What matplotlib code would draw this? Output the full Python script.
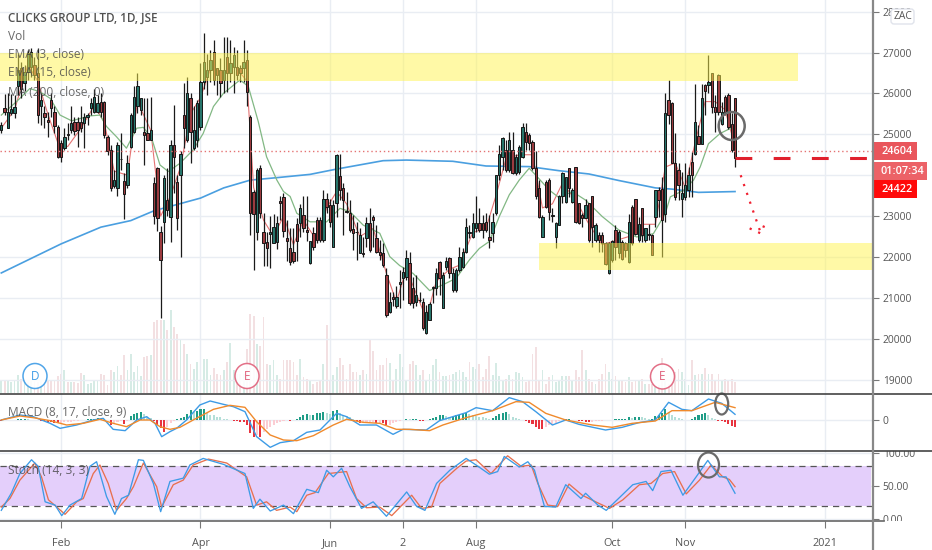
import numpy as np
import matplotlib
matplotlib.use('Agg')
import matplotlib.pyplot as plt
from matplotlib.patches import Ellipse, Rectangle, FancyBboxPatch

plt.rcParams['font.family'] = ['Open Sans', 'DejaVu Sans']

WIDTH, HEIGHT = 932, 550
PANE_RIGHT = 873

opens = [
    25100, 25640, 25150, 25520, 25520, 26170, 26610, 26250, 26530, 26650,
    26700, 26490, 25680, 25510, 25350, 25840, 25550, 25190, 24780, 24660,
    25000, 25100, 25310, 25290, 25310, 25270, 25420, 25640, 25550, 25550,
    25800, 25800, 24940, 24620, 23740, 23680, 24400, 23850, 23760, 24700,
    25060, 25680, 25590, 25060, 25020, 24860, 23820, 24170, 22620, 22850,
    23400, 22980, 24740, 23840, 24000, 25470, 24860, 25880, 24660, 24860,
    25190, 26290, 26410, 26570, 27020, 26610, 26570, 26330, 26900, 26490,
    26650, 26650, 26610, 26610, 26820, 25430, 23590, 22620, 24170, 22620,
    22370, 22560, 22340, 22370, 23380, 23460, 22460, 22220, 22130, 22800,
    22840, 23030, 22650, 21850, 22580, 22900, 22900, 22420, 23430, 23270,
    22250, 23310, 23980, 23680, 23120, 23070, 22680, 22620, 22090, 22090,
    22460, 22820, 22990, 22460, 22110, 22090, 21560, 20660, 21030, 20790,
    21340, 21480, 21520, 21850, 21230, 20910, 20950, 20910, 20130, 20460,
    21230, 21230, 21870, 20750, 21760, 21970, 21190, 21190, 21680, 21760,
    22130, 22620, 22500, 22700, 22820, 22820, 22860, 22500, 22580, 23070,
    24000, 24450, 24610, 24130, 24610, 24050, 24090, 24450, 25060, 24980,
    24820, 24170, 23680, 22500, 23840, 23880, 23000, 22500, 22780, 23480,
    23350, 24170, 23350, 24210, 23310, 23030, 22950, 23310, 23480, 22420,
    22540, 22540, 22330, 21600, 21930, 22660, 22090, 22370, 22330, 21880,
    23230, 23430, 22410, 23190, 22410, 22570, 22530, 22980, 23650, 23670,
    23060, 25850, 25770, 24290, 24120, 23430, 23470, 23630, 24330, 24530,
    24950, 24770, 26200, 26200, 26490, 25670, 26450, 25260, 25920, 25970,
    25260, 25880,
]
highs = [
    25310, 25980, 26000, 25990, 25960, 26960, 26780, 26700, 27050, 27100,
    26900, 27100, 26000, 25680, 25550, 26000, 25680, 25230, 24860, 25150,
    25270, 25680, 25430, 25430, 25680, 25510, 25510, 25880, 26120, 25960,
    26000, 25820, 24980, 24740, 24130, 24820, 25020, 24050, 24500, 25510,
    26170, 26490, 25880, 25880, 25880, 25920, 23950, 24200, 22750, 24000,
    24170, 24850, 25720, 24000, 24600, 26250, 26410, 26000, 25680, 25840,
    26740, 27470, 26970, 27060, 27310, 26610, 26860, 27390, 27390, 27310,
    27140, 27060, 26690, 27310, 27060, 25470, 23650, 24170, 24250, 23070,
    22620, 23000, 23050, 23000, 23500, 23560, 22900, 22700, 22700, 22950,
    23300, 23500, 23480, 22390, 22740, 22990, 22990, 23640, 23560, 23430,
    23390, 24530, 24530, 23800, 23600, 23390, 23030, 22860, 22700, 22500,
    22990, 23190, 23030, 22780, 22410, 22330, 21720, 21150, 21150, 21280,
    21680, 21760, 22170, 22130, 21520, 21560, 21150, 20990, 20830, 20900,
    21280, 21720, 21890, 21640, 22010, 22010, 21720, 21720, 22250, 22210,
    22950, 22780, 23070, 23480, 23190, 23030, 23070, 23030, 23070, 24000,
    24740, 24940, 24860, 25060, 25060, 24530, 24740, 25270, 25280, 25020,
    24860, 24580, 23880, 23030, 23880, 23920, 23190, 22860, 23520, 24090,
    23960, 24170, 23680, 24210, 23310, 23070, 23430, 23310, 23490, 22820,
    22620, 22620, 22370, 22370, 22420, 22780, 22660, 22410, 22370, 23060,
    23270, 23430, 22980, 23190, 22700, 22800, 22570, 23010, 23700, 23960,
    26000, 26320, 25800, 25020, 24290, 24080, 24290, 24200, 24570, 26240,
    25220, 26240, 26240, 26930, 26510, 25960, 26480, 25800, 25960, 26000,
    25510, 25890,
]
lows = [
    25020, 25480, 25150, 25470, 25390, 25950, 25880, 26050, 26330, 26400,
    26330, 25270, 25230, 25150, 24940, 25430, 25020, 24410, 24330, 24620,
    24860, 25020, 24980, 24700, 25060, 24660, 25220, 25470, 25510, 25510,
    25430, 24900, 24490, 23620, 23680, 23480, 24130, 22930, 23680, 24660,
    25020, 25510, 25470, 24250, 24860, 24860, 22800, 22630, 20500, 22340,
    23000, 22370, 23560, 22650, 22000, 24660, 24820, 24290, 24620, 24700,
    25100, 26100, 25960, 26290, 26200, 25960, 25920, 26000, 26040, 26290,
    26000, 26330, 26290, 26290, 25680, 22540, 21680, 22420, 22950, 21770,
    21780, 21730, 22330, 22200, 22900, 22500, 21900, 21800, 21850, 21900,
    22500, 22600, 22400, 21840, 22170, 22330, 22370, 22370, 23070, 22740,
    22240, 22990, 23390, 22540, 23070, 22620, 22170, 21930, 22090, 22010,
    22250, 22130, 22250, 22090, 21930, 21760, 20540, 20620, 20790, 20750,
    20750, 20950, 21440, 20830, 20750, 20790, 20910, 20210, 20120, 20460,
    20870, 21070, 21070, 20750, 21680, 21480, 21150, 21150, 21640, 21720,
    22090, 22460, 22460, 22620, 22620, 22460, 22620, 22210, 22370, 23030,
    23880, 24130, 24090, 24090, 24040, 24000, 24040, 24410, 24620, 24620,
    24130, 23430, 22950, 22480, 23190, 22900, 22860, 22210, 22780, 23310,
    23310, 23470, 23310, 22820, 22800, 22740, 22950, 22370, 22250, 22370,
    22130, 22130, 21800, 21590, 21880, 21930, 21970, 21920, 22000, 21860,
    22290, 22530, 22370, 22370, 22370, 22410, 22040, 22740, 22980, 22000,
    22860, 25260, 24290, 23390, 23390, 22980, 23390, 23470, 23470, 24490,
    24770, 24770, 25470, 26000, 25510, 25060, 25470, 25220, 25470, 25140,
    24570, 24200,
]
closes = [
    25230, 25550, 25550, 25620, 25660, 26570, 26120, 26530, 26980, 27020,
    26450, 25470, 25840, 25430, 25290, 25640, 25200, 24440, 24450, 24940,
    24980, 25270, 25070, 25110, 25150, 25430, 25470, 25760, 25920, 25760,
    25550, 24980, 24580, 23680, 23880, 24740, 24390, 23540, 24290, 25470,
    25920, 26170, 25880, 24980, 24860, 25100, 23000, 22950, 21930, 23930,
    23150, 24740, 24450, 22950, 24530, 25150, 26000, 25060, 25100, 25760,
    26290, 26780, 26570, 26820, 26330, 26450, 26250, 26570, 26490, 26740,
    26940, 26450, 26490, 26780, 26040, 23070, 23060, 24130, 23070, 22340,
    22220, 22620, 22740, 22840, 23330, 22640, 22380, 21880, 21890, 22400,
    23200, 22700, 22620, 22390, 22250, 22420, 22420, 23430, 23230, 22860,
    23270, 24490, 23640, 23390, 23090, 22660, 22580, 22600, 22540, 22070,
    22820, 22170, 22900, 22130, 22050, 21800, 20580, 20910, 20980, 21030,
    21400, 21640, 21970, 20870, 20870, 21070, 20960, 20260, 20660, 20850,
    21260, 21600, 21480, 21560, 21890, 21600, 21600, 21680, 22010, 22130,
    22740, 22580, 22820, 22820, 22660, 22660, 22660, 22420, 22860, 24000,
    24530, 24900, 24130, 24860, 24050, 24450, 24700, 25190, 24820, 24780,
    24170, 23480, 22990, 22990, 23230, 23110, 23030, 22820, 23480, 24050,
    23960, 23680, 23640, 22860, 22820, 22950, 23270, 22420, 22740, 22780,
    22420, 22330, 21840, 22330, 22380, 22250, 22620, 21960, 22170, 22860,
    22330, 22570, 22800, 22530, 22700, 22530, 22040, 23650, 23390, 22900,
    25510, 25470, 24300, 23470, 23760, 23570, 23760, 24000, 24000, 25300,
    24770, 25880, 26060, 26280, 25670, 25550, 25550, 25550, 25550, 25180,
    24610, 24422,
]
volumes = [
    13, 13, 12, 11, 13, 18, 14, 11, 12, 12,
    12, 11, 12, 11, 13, 12, 13, 17, 19, 23,
    11, 11, 11, 10, 20, 18, 9, 10, 12, 13,
    19, 18, 8, 23, 21, 27, 18, 38, 23, 39,
    21, 27, 17, 36, 37, 38, 71, 73, 73, 73,
    63, 83, 66, 59, 53, 49, 39, 29, 24, 31,
    33, 34, 34, 18, 25, 19, 18, 23, 31, 50,
    23, 19, 19, 19, 44, 79, 77, 49, 47, 76,
    29, 28, 33, 18, 14, 33, 33, 33, 31, 18,
    34, 16, 14, 13, 9, 11, 13, 29, 68, 13,
    18, 26, 35, 28, 14, 29, 21, 21, 18, 23,
    19, 53, 42, 23, 28, 28, 35, 30, 13, 24,
    39, 26, 13, 29, 32, 28, 18, 23, 13, 19,
    28, 34, 21, 17, 17, 18, 19, 21, 23, 21,
    16, 31, 26, 24, 29, 16, 24, 37, 18, 30,
    17, 13, 14, 18, 14, 21, 20, 16, 11, 12,
    39, 46, 13, 23, 9, 16, 18, 11, 13, 17,
    17, 17, 13, 23, 16, 43, 23, 14, 11, 9,
    14, 19, 29, 21, 14, 17, 13, 13, 11, 16,
    11, 13, 13, 14, 9, 9, 9, 6, 8, 35,
    13, 9, 13, 21, 24, 21, 14, 8, 33, 18,
    19, 19, 25, 19, 19, 13, 19, 13, 14, 13,
    14, 11,
]
macd_hist = [
    -2, -1, 0, 0, 1, 2, 3, 3, 2, 1,
    0, -1, -2, -3, -5, -6, -8, -9, -8, -7,
    -6, -5, -4, -3, -1, 0, 3, 4, 4, 5,
    4, 3, 1, -15, -12, -6, -4, -13, -2, 12,
    17, 22, 24, 18, 10, 5, -2, -15, -25, -35,
    -20, -8, -4, 2, 5, 8, 18, 30, 24, 26,
    32, 34, 20, 16, 14, 10, 8, 4, 2, 1,
    -2, -3, -5, -7, -15, -40, -50, -45, -50, -35,
    -28, -22, -16, -10, -6, -3, -1, -4, -1, 4,
    10, 15, 18, 14, 16, 20, 22, 25, 22, 18,
    28, 30, 20, 16, 12, 8, 4, -3, -8, -8,
    -6, -6, -5, -8, -8, -9, -16, -14, -10, -6,
    -3, 0, 4, 2, 2, 2, -2, -3, -1, 2,
    6, 10, 14, 16, 12, 10, 10, 14, 15, 18,
    20, 18, 15, 12, 10, 8, 5, 4, 5, 12,
    18, 22, 24, 18, 10, 5, 2, 1, -3, -8,
    -12, -20, -26, -28, -20, -16, -12, -8, -4, -1,
    2, 4, 1, -1, -2, -3, -5, -6, -5, -4,
    -3, -2, -1, 0, 0, 2, 2, 2, 4, 8,
    6, 9, 9, 8, 5, 4, 4, 12, 14, 20,
    34, 24, 16, 10, 5, 2, -1, 1, 4, 10,
    14, 17, 20, 14, 6, 3, -2, -4, -7, -12,
    -18, -20,
]

ema3_x = [0, 4, 8, 11, 14, 17, 20, 24, 28, 31, 34, 38, 41, 45, 48, 51, 54, 57, 60, 63, 67, 70, 74, 76, 79, 82, 85, 88, 91, 95,
          98, 101, 104, 108, 112, 116, 119, 122, 125, 128, 131, 135, 138, 142, 146, 149, 152, 156, 160, 163, 166, 169, 173,
          177, 181, 185, 189, 193, 197, 200, 203, 206, 209, 212, 215, 218, 221]
ema3_y = [25150, 25600, 26700, 26300, 25500, 24800, 24700, 25150, 25700, 25300, 24100, 24000, 25800, 25100, 23000, 23500,
          24200, 25500, 25900, 26600, 26500, 26700, 26300, 23700, 22900, 22500, 23000, 22300, 22900, 22400,
          23200, 23600, 23300, 22500, 22700, 21600, 20900, 21700, 21100, 20500, 21400, 21700, 21800, 22600, 22700, 23500,
          24400, 24500, 24500, 23200, 23300, 23800, 23400, 22800, 22300, 22400, 22500, 22800, 22800, 24200, 24300, 23700,
          24800, 25800, 25800, 25600, 24700]

ema15_x = [0, 4.6, 8.6, 11.6, 14.7, 17.7, 21.2, 26.7, 29.7, 31.7, 34.7, 37.7, 40.8, 42.8, 45.3, 47.8, 50.3, 53.8, 57.8,
           60.8, 63.9, 66.9, 71.9, 74.4, 77.4, 79.9, 83, 85, 87, 89, 93, 98, 102, 105, 109, 114, 117, 120, 124, 129, 133,
           137, 141, 144, 147, 150, 153, 156, 159, 161, 165, 168, 172, 176, 181, 186, 191.4, 196.4, 200, 201.5, 205.5,
           208.5, 210.5, 213, 216.5, 219.5, 221]
ema15_y = [25470, 25800, 26120, 26040, 25880, 25470, 25330, 25450, 25470, 25190, 24940, 24660, 25150, 25170, 24900, 24250,
           24090, 24290, 24620, 25020, 25680, 26000, 26330, 26170, 25310, 24450, 23880, 23600, 23480, 23070, 22860, 22860,
           23190, 23110, 22780, 22580, 22010, 21790, 21600, 21180, 21320, 21480, 21930, 22210, 22380, 22990, 23520, 23880,
           24170, 24000, 23640, 23450, 23600, 23390, 22990, 22660, 22490, 22570, 23060, 23470, 23630, 23880, 24200, 24770,
           25020, 25140, 25130]

ma200_x = [0, 18, 30, 39, 46, 60, 67, 75, 83, 93, 101, 115, 122, 136, 146, 159, 168, 177, 186, 197, 202, 210, 221]
ma200_y = [21610, 22320, 22730, 22890, 23130, 23440, 23690, 23880, 23940, 24020, 24150, 24355, 24370, 24340, 24225, 24210,
           24110, 24030, 23870, 23690, 23660, 23580, 23600]

macd_x = [0, 5.6, 9.6, 14.7, 17.7, 22.7, 27.7, 30.7, 33.7, 37.3, 40.8, 43.8, 46.3, 48.3, 50.8, 52.8, 55.8, 59.8, 62.9, 66.9,
          69.9, 73.4, 76.9, 81, 84, 88, 92, 96, 101, 104, 108, 113, 118, 121, 128, 132, 140, 143, 148, 153, 157, 161, 166,
          170, 174, 182, 187, 192, 197, 201, 205, 208, 213, 217, 221]
macd_line = [0, 15, 10, -10, -25, -15, 0, 5, -28, -32, 0, 10, -10, -50, -35, -25, 0, 45, 57, 47,
             40, 25, -50, -82, -68, -62, -37, -30, 20, 10, -15, -15, -43, -28, -30, -2, 22, 37, 28, 67, 55, 25, -15,
             0, -13, -30, -22, -8, 0, 53, 32, 28, 63, 50, 17]
signal_x = [0, 5.6, 9.6, 14.7, 19.7, 24.7, 29.7, 33.7, 37.7, 41.8, 44.8, 47.8, 50.8, 53.8, 57.8, 63.9, 68.9, 73.4, 76.9, 81,
            85, 89, 94, 100, 104, 109, 114, 119, 123, 129, 133, 140, 148, 155, 159, 164, 170, 178, 184, 190, 197, 202, 208,
            215, 221]
signal_line = [0, 12, 7, -2, -15, -10, 2, -10, -20, 0, 0, -20, -28, -22, 0, 32, 44, 38, -5, -45,
               -60, -62, -47, -15, 2, -7, -10, -28, -28, -32, -15, 7, 28, 55, 53, 20, 0, -15, -22, -10, -3, 28, 28,
               53, 37]

stoch_k_x = [0, 3, 5.6, 9.1, 11.1, 13.2, 16.2, 18.2, 20.7, 24.2, 26.7, 28.7, 31.7, 34.2, 36.2, 38.3, 41.3, 42.8, 45.8, 48,
             50.8, 54.8, 56.8, 60.8, 66.9, 73.4, 75.9, 77.9, 81, 85, 88, 92, 95.5, 98, 100, 102.5, 105, 108.5, 112, 116,
             122.1, 125.1, 127.6, 131.1, 135.1, 140, 143, 147, 149.5, 151.5, 156, 158.6, 160.6, 163.6, 167, 170, 174.6,
             176, 179.7, 182.2, 185.7, 190.2, 194.2, 196.2, 198.7, 201.7, 205.3, 209.3, 212.8, 216.3, 218.3, 221]
stoch_k = [13, 39, 69, 90, 80, 26, 21, 5, 21, 31, 80, 87, 34, 7, 31, 36, 90, 89, 54, 11,
           57, 62, 82, 92, 83, 69, 16, 30, 12, 21, 8, 45, 40, 74, 64, 77, 49, 16, 26, 4,
           41, 19, 13, 54, 74, 92, 82, 68, 72, 95, 79, 87, 74, 19, 18, 52, 31,
           39, 21, 13, 30, 52, 57, 43, 72, 74, 36, 64, 89, 64, 64, 39]
stoch_d_x = [0, 2.6, 5.6, 10.1, 12.1, 14.2, 16.7, 19.2, 22.7, 24.7, 27.7, 29.7, 32.2, 34.7, 37.7, 39.8, 42.8, 46.8, 48.3,
             51.8, 54.8, 57.8, 62.4, 67.9, 73.9, 76.9, 79.9, 82.9, 87, 89, 92, 94.5, 98.5, 104, 107, 110, 114, 117.6, 123.6,
             126.6, 129.6, 132.1, 137.2, 140, 143, 147.5, 152.5, 156.6, 159.6, 161.6, 164.6, 167.6, 171, 175, 179, 183.2,
             187.2, 192.2, 195.7, 199.2, 202.8, 206.3, 210.3, 213.8, 217.3, 219.3, 221]
stoch_d = [18, 31, 59, 85, 64, 29, 18, 7, 26, 31, 69, 82, 54, 13, 31, 49, 85, 49, 18,
           52, 59, 82, 91, 85, 64, 21, 26, 13, 18, 11, 36, 40, 69, 72, 31, 17, 18, 5, 36,
           16, 18, 54, 77, 88, 90, 69, 96, 80, 82, 54, 21, 19, 53, 36, 26, 16,
           29, 52, 54, 69, 72, 38, 59, 82, 64, 60, 49]

x_tick_pos = [18, 60, 99, 121, 143, 184, 206, 248]
x_tick_labels = ['Feb', 'Apr', 'Jun', '2', 'Aug', 'Oct', 'Nov', '2021']
price_ticks = [19000, 20000, 21000, 22000, 23000, 24000, 25000, 26000, 27000, 28000]
# the 24000 label is hidden behind the price tags in the reference
price_tick_labels = ['19000', '20000', '21000', '22000', '23000', '', '25000', '26000', '27000', '28000']
stoch_ticks = [0, 50, 100]
stoch_tick_labels = ['0.00', '50.00', '100.00']

zone_top = (26300, 27000, 797)
zone_bottom = (21680, 22340, 162)
last_close = 24422
prev_level = 24604
arrow_x = [222.7, 228.8]
arrow_y = [24000, 22575]
head_x = [225.4, 228.8, 230.4]
head_y = [22700, 22575, 22900]

GREEN_BODY = '#27756b'
RED_BODY = '#9c3b3f'
GRID = '#e9edf3'
TEXT = '#555555'

x = np.arange(len(closes))
x_min = -1.3 / 3.32
x_max = (PANE_RIGHT - 1.3) / 3.32

fig = plt.figure(figsize=(WIDTH / 100, HEIGHT / 100), dpi=100)


def pane(top, bottom):
    return fig.add_axes([0, 1 - bottom / HEIGHT, PANE_RIGHT / WIDTH, (bottom - top) / HEIGHT])


ax_vol = pane(0, 394)
ax = pane(0, 394)
ax_macd = pane(394, 451)
ax_stoch = pane(451, 521)

for a in (ax, ax_macd, ax_stoch):
    a.set_xlim(x_min, x_max)
    a.set_xticks(x_tick_pos)
    a.grid(True, color=GRID, lw=1)
    a.set_axisbelow(True)
    a.yaxis.tick_right()
    a.tick_params(axis='y', length=4, color='#777777', labelsize=7.4, labelcolor=TEXT, pad=3)
    a.tick_params(axis='x', length=0, labelbottom=False)
    for s in a.spines.values():
        s.set_visible(False)

# volume sits behind the candles on its own scale
ax_vol.set_xlim(x_min, x_max)
ax_vol.set_ylim(-1, 393)
ax_vol.axis('off')
vol_colors = ['#d6ebe5' if c >= o else '#f3e0e2' for o, c in zip(opens, closes)]
ax_vol.bar(x, volumes, width=0.55, color=vol_colors)

# candles
ax.set_facecolor('none')
ax.set_ylim(18650, 28284)
ax.set_yticks(price_ticks)
ax.set_yticklabels(price_tick_labels)
ax.plot(ma200_x, ma200_y, color='#4a9fe0', lw=1.2, zorder=2)
ax.plot(ema3_x, ema3_y, color='#e57373', lw=0.8, zorder=2)
ax.plot(ema15_x, ema15_y, color='#82b884', lw=0.9, zorder=2)
ax.vlines(x, lows, highs, color='#1a1a1a', lw=0.9, zorder=3)
body_colors = [GREEN_BODY if c >= o else RED_BODY for o, c in zip(opens, closes)]
body_low = np.minimum(opens, closes)
body_h = np.abs(np.array(closes) - np.array(opens))
ax.bar(x, body_h, bottom=body_low, width=0.72, color=body_colors, edgecolor='#161616', lw=0.7, zorder=4)

ax.axhline(prev_level, color='#e57373', lw=1, ls=(0, (1, 2)), zorder=5)
ax.plot([221, x_max], [last_close, last_close], color='#e0202c', lw=2.2, ls=(0, (5.5, 7)), zorder=5)
ax.plot(arrow_x, arrow_y, color='#f02030', lw=1.6, ls=(0, (1, 3.2)), zorder=5)
ax.plot(head_x, head_y, color='#f02030', lw=1.6, ls=(0, (1, 3.2)), zorder=5)

ax.add_patch(Rectangle((x_min, zone_top[0]), (zone_top[2] + 1) / 3.32, zone_top[1] - zone_top[0],
                       color='#fff44f', alpha=0.5, lw=0, zorder=6))
ax.add_patch(Rectangle((zone_bottom[2], zone_bottom[0]), x_max - zone_bottom[2], zone_bottom[1] - zone_bottom[0],
                       color='#fff44f', alpha=0.5, lw=0, zorder=6))

# MACD pane
ax_macd.set_ylim(-93, 78)
ax_macd.set_yticks([0])
ax_macd.set_yticklabels(['0'])
hist_colors = []
for i, v in enumerate(macd_hist):
    prev = macd_hist[i - 1] if i else 0
    if v >= 0:
        hist_colors.append('#1f9d87' if v >= prev else '#b4dfd8')
    else:
        hist_colors.append('#e8343f' if v < prev else '#fbcdd3')
ax_macd.bar(x, macd_hist, width=0.62, color=hist_colors, zorder=2)
ax_macd.plot(macd_x, macd_line, color='#3d9be6', lw=1.0, zorder=3)
ax_macd.plot(signal_x, signal_line, color='#f08a2c', lw=1.0, zorder=3)

# Stochastic pane
ax_stoch.set_ylim(-3.2, 103.3)
ax_stoch.set_yticks(stoch_ticks)
ax_stoch.set_yticklabels(stoch_tick_labels)
ax_stoch.axhspan(20, 80, xmin=0, xmax=871 / PANE_RIGHT, color='#e4cffb', lw=0, zorder=1)
ax_stoch.axhline(80, color='#555555', lw=0.9, ls=(0, (5, 4)), zorder=2)
ax_stoch.axhline(20, color='#555555', lw=0.9, ls=(0, (5, 4)), zorder=2)
ax_stoch.plot(stoch_d_x, stoch_d, color='#e8704e', lw=0.95, zorder=3)
ax_stoch.plot(stoch_k_x, stoch_k, color='#3d9be6', lw=0.95, zorder=3)
ax_stoch.tick_params(axis='x', length=5, color='#777777', labelbottom=True, labelsize=7.8, labelcolor=TEXT, pad=7)
ax_stoch.set_xticklabels(x_tick_labels)

# overlay in picture pixels for the pane frames and drawing tools
top = fig.add_axes([0, 0, 1, 1], zorder=10)
top.set_xlim(0, WIDTH)
top.set_ylim(HEIGHT, 0)
top.axis('off')

# the pane frames cut the edge labels of the stochastic scale
top.add_patch(Rectangle((877, 445), 55, 6, color='white', lw=0))
top.add_patch(Rectangle((877, 521), 55, 6, color='white', lw=0))
top.plot([0, WIDTH], [394, 394], color='#444444', lw=1.2)
top.plot([0, WIDTH], [451, 451], color='#444444', lw=1.2)
top.plot([0, 884], [521, 521], color='#666666', lw=1.2)
top.plot([873, 873], [0, 550], color='#888888', lw=1.6)

# legend titles
top.text(8, 18, 'CLICKS GROUP LTD, 1D, JSE', fontsize=8.4, color='#505050', fontweight='semibold', va='center')
legend_y = [36, 55, 73, 92]
legend_txt = ['Vol', 'EMA (3, close)', 'EMA (15, close)', 'MA (200, close, 0)']
for ly, lt in zip(legend_y, legend_txt):
    top.text(8, ly, lt, fontsize=8.6, color='#444444', alpha=0.8, va='center')
top.text(8, 413, 'MACD (8, 17, close, 9)', fontsize=8.6, color='#444444', alpha=0.8, va='center')
top.text(8, 470, 'Stoch (14, 3, 3)', fontsize=8.6, color='#444444', alpha=0.8, va='center')

# hand drawn circles
top.add_patch(Ellipse((731.7, 126), 26, 28, fill=False, ec='#6a6a6a', lw=1.8))
top.add_patch(Ellipse((721.7, 404), 13, 21, fill=False, ec='#6a6a6a', lw=1.6))
top.add_patch(Ellipse((708.5, 465), 21, 25, fill=False, ec='#6a6a6a', lw=1.6))

# dividend and earnings markers
markers = [(35, 376, 'D', '#3d9be6'), (247, 376, 'E', '#e0607a'), (662.5, 376.5, 'E', '#e0607a')]
for mx, my, ml, mc in markers:
    top.add_patch(Ellipse((mx, my), 24, 25, fc='white', ec=mc, lw=1.1, alpha=0.9))
    top.text(mx, my, ml, color=mc, fontsize=8.5, ha='center', va='center')

# price labels on the scale
labels = [(142, 160, 917, '24604', '#e9565c'), (162, 180, 927, '01:07:34', '#ec6267'), (180, 198, 917, '24422', '#ff0a0a')]
for y0, y1, xr, txt, col in labels:
    top.add_patch(Rectangle((874, y0), xr - 874, y1 - y0, color=col, lw=0))
    top.text((874 + xr) / 2 + 1.5, (y0 + y1) / 2, txt, color='white', fontsize=7.8, fontweight='semibold',
             ha='center', va='center')

# currency badge
top.add_patch(FancyBboxPatch((891, 9), 23, 15, boxstyle='round,pad=0,rounding_size=3', fc='white', ec='#e0e3eb', lw=1))
top.text(902.5, 16.5, 'ZAC', color=TEXT, fontsize=7.4, ha='center', va='center')

fig.savefig('out.png', dpi=100)
